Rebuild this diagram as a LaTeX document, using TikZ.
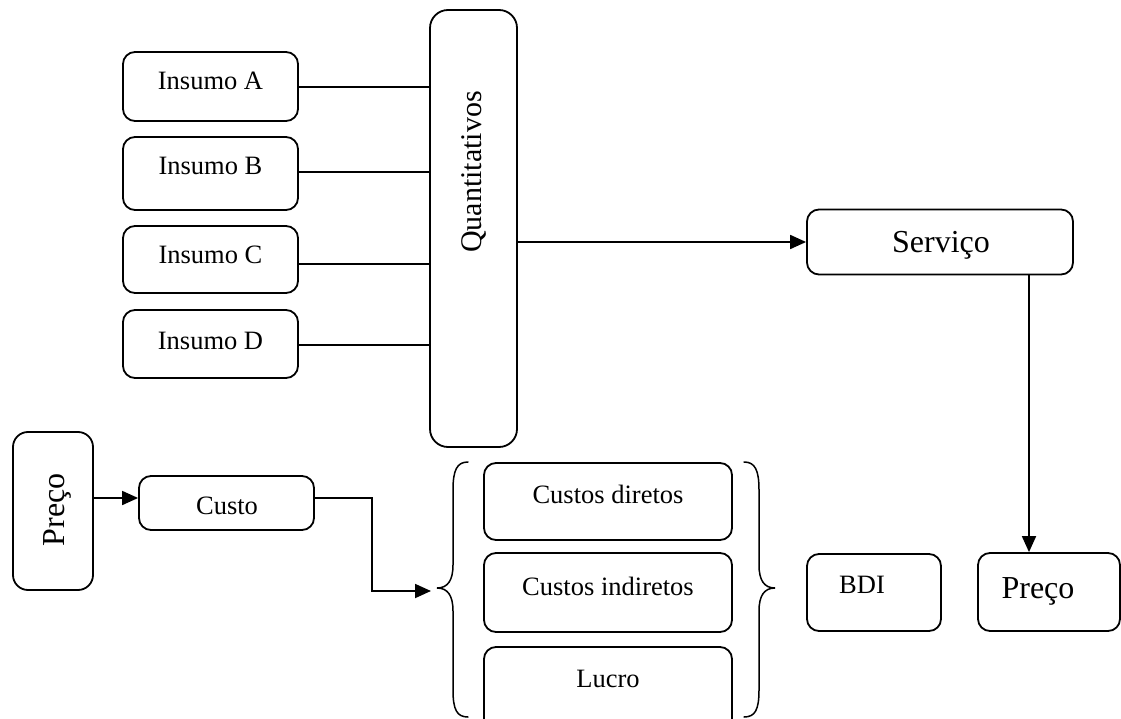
\documentclass[tikz,border=0pt]{standalone}
\usepackage{fontspec}
\setmainfont{Liberation Serif}
\usetikzlibrary{arrows.meta,calc}
\begin{document}
\begin{tikzpicture}[x=1pt,y=-1pt,
  box/.style={draw,line width=1.8pt,rounded corners=12pt,inner sep=0pt},
  tall/.style={box,rounded corners=18pt},
  txt/.style={inner sep=0pt,anchor=base,font=\fontsize{26.5}{30}\selectfont},
  bigtxt/.style={inner sep=0pt,anchor=base,font=\fontsize{32}{36}\selectfont},
  conn/.style={line width=1.8pt},
  arr/.style={line width=1.8pt,-{Triangle[length=16pt,width=14pt]}},
  brace/.style={line width=1.5pt,line cap=round}]
\useasboundingbox (0,0) rectangle (1121,719);
\clip (0,0) rectangle (1121,719);
% Insumo boxes
\node[box,minimum width=175,minimum height=69] (A) at (210.5,86.5) {};
\node[box,minimum width=175,minimum height=73] (B) at (210.5,173.5) {};
\node[box,minimum width=175,minimum height=67] (C) at (210.5,259.5) {};
\node[box,minimum width=175,minimum height=68] (D) at (210.5,344) {};
\node[txt] (tA) at (210.5,90) {Insumo A};
\node[txt] (tB) at (210.5,175) {Insumo B};
\node[txt] (tC) at (210.5,264) {Insumo C};
\node[txt] (tD) at (210.5,349) {Insumo D};
% Quantitativos
\node[tall,minimum width=87,minimum height=437] (Q) at (473.5,228.5) {};
\node[inner sep=0pt,rotate=90,font=\fontsize{30}{34}\selectfont] (tQ) at (473.5,172) {Quantitativos};
\draw[conn] ($(A.east)+(0,0.5)$) -- ($(A.east -| Q.west)+(0,0.5)$);
\draw[conn] ($(B.east)+(0,-1.5)$) -- ($(B.east -| Q.west)+(0,-1.5)$);
\draw[conn] ($(C.east)+(0,4.5)$) -- ($(C.east -| Q.west)+(0,4.5)$);
\draw[conn] ($(D.east)+(0,1)$) -- ($(D.east -| Q.west)+(0,1)$);
% Servico
\node[box,minimum width=266,minimum height=65] (S) at (940,242) {};
\node[bigtxt] (tS) at (941,253) {Serviço};
\draw[arr] (Q.east |- S.west) -- (S.west);
% Preco right and BDI
\node[box,minimum width=142,minimum height=78] (P) at (1049,592) {};
\node[bigtxt] (tP) at (1038,598) {Preço};
\node[box,minimum width=134,minimum height=77] (BDI) at (874,592.5) {};
\node[txt] (tBDI) at (862,593) {BDI};
\coordinate (sdown) at (1029,275);
\draw[arr] (S.south -| sdown) -- (P.north -| sdown);
% Preco left and Custo
\node[tall,rounded corners=15pt,minimum width=80,minimum height=158] (Pl) at (53,511) {};
\node[inner sep=0pt,rotate=90,font=\fontsize{32}{36}\selectfont] (tPl) at (57,510) {Preço};
\node[box,minimum width=175,minimum height=54] (Cu) at (226.5,503) {};
\node[txt] (tCu) at (227,514) {Custo};
\coordinate (cy) at (0,498);
\draw[arr] (Pl.east |- cy) -- (Cu.west |- cy);
% cost components
\node[box,minimum width=248,minimum height=77] (Cd) at (608,501.5) {};
\node[box,minimum width=248,minimum height=79] (Ci) at (608,592.5) {};
\node[box,minimum width=248,minimum height=85] (Lu) at (608,689.5) {};
\node[txt] (tCd) at (608,503) {Custos diretos};
\node[txt] (tCi) at (608,595) {Custos indiretos};
\node[txt] (tLu) at (608,687) {Lucro};
% braces
\coordinate (ltip) at (437,588);
\draw[brace] (468,462) .. controls (457,462) and (453,470) .. (453,490) -- (453,565)
  .. controls (453,580) and (448,588) .. (ltip)
  .. controls (448,588) and (453,596) .. (453,611) -- (453,690)
  .. controls (453,710) and (457,717) .. (468,717);
\draw[brace] (744,462) .. controls (755,462) and (759,470) .. (759,490) -- (759,565)
  .. controls (759,580) and (764,588) .. (775,588)
  .. controls (764,588) and (759,596) .. (759,611) -- (759,690)
  .. controls (759,710) and (755,717) .. (744,717);
\draw[arr] (Cu.east |- cy) -- (372,498) -- (372,591) -- ($(ltip)+(-6,3)$);
\end{tikzpicture}
\end{document}
